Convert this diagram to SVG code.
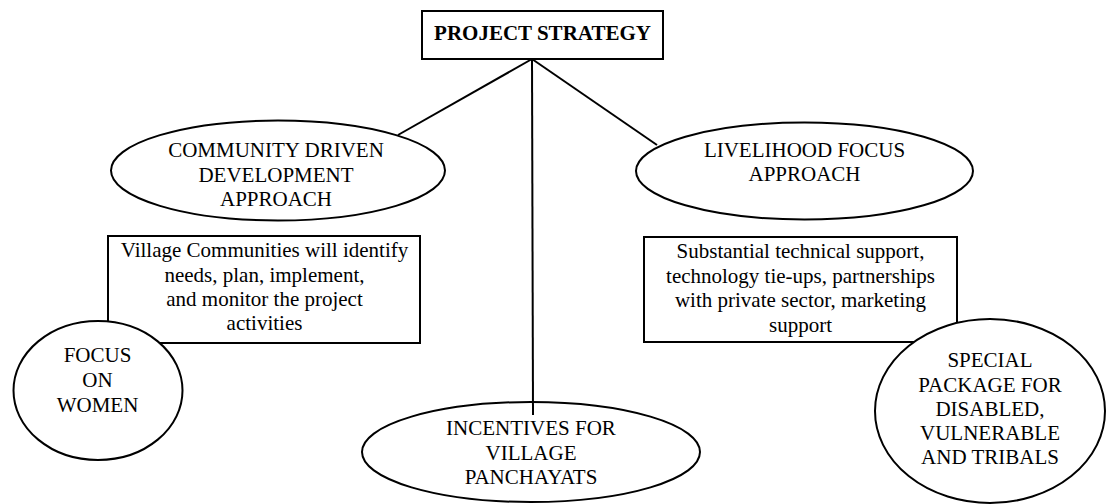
<svg xmlns="http://www.w3.org/2000/svg" width="1107" height="504" viewBox="0 0 1107 504">
  <style>
    .shape { fill: #fff; stroke: #000; stroke-width: 2; }
    .t { font-family: 'Liberation Serif', 'Times New Roman', serif; font-size: 21px; fill: #000; text-anchor: middle; }
    .b { font-weight: bold; }
    #connectors line { stroke: #000; stroke-width: 2; }
  </style>
  <rect width="1107" height="504" fill="#fff"/>

  <!-- root -->
  <g id="project-strategy">
    <rect class="shape" x="422" y="11" width="241" height="48"/>
    <text class="t b" x="542.5" y="40">PROJECT STRATEGY</text>
  </g>

  <!-- detail boxes (drawn under the ellipses that overlap them) -->
  <g id="community-detail">
    <rect class="shape" x="108" y="236" width="312" height="107"/>
    <text class="t" x="264.5" y="257">Village Communities will identify</text>
    <text class="t" x="264.5" y="282">needs, plan, implement,</text>
    <text class="t" x="264.5" y="306">and monitor the project</text>
    <text class="t" x="264.5" y="330">activities</text>
  </g>

  <g id="livelihood-detail">
    <rect class="shape" x="644" y="237" width="313" height="105"/>
    <text class="t" x="800.5" y="258">Substantial technical support,</text>
    <text class="t" x="800.5" y="283">technology tie-ups, partnerships</text>
    <text class="t" x="800.5" y="307">with private sector, marketing</text>
    <text class="t" x="800.5" y="332">support</text>
  </g>

  <g id="community-driven">
    <ellipse class="shape" cx="278" cy="170.5" rx="167" ry="50"/>
    <text class="t" x="276" y="157">COMMUNITY DRIVEN</text>
    <text class="t" x="276" y="182">DEVELOPMENT</text>
    <text class="t" x="276" y="206">APPROACH</text>
  </g>

  <g id="livelihood-focus">
    <ellipse class="shape" cx="804.5" cy="171" rx="168.5" ry="48.5"/>
    <text class="t" x="804.5" y="157">LIVELIHOOD FOCUS</text>
    <text class="t" x="804.5" y="181">APPROACH</text>
  </g>

  <g id="focus-on-women">
    <ellipse class="shape" cx="98" cy="390.5" rx="84.5" ry="69.5"/>
    <text class="t" x="97.5" y="362">FOCUS</text>
    <text class="t" x="97.5" y="387">ON</text>
    <text class="t" x="97.5" y="411.5">WOMEN</text>
  </g>

  <g id="incentives">
    <ellipse class="shape" cx="531" cy="452" rx="169" ry="50"/>
    <text class="t" x="531" y="435">INCENTIVES FOR</text>
    <text class="t" x="531" y="460">VILLAGE</text>
    <text class="t" x="531" y="484">PANCHAYATS</text>
  </g>

  <g id="special-package">
    <ellipse class="shape" cx="990" cy="411" rx="115" ry="92"/>
    <text class="t" x="990" y="367">SPECIAL</text>
    <text class="t" x="990" y="392">PACKAGE FOR</text>
    <text class="t" x="990" y="416">DISABLED,</text>
    <text class="t" x="990" y="440">VULNERABLE</text>
    <text class="t" x="990" y="464">AND TRIBALS</text>
  </g>

  <g id="connectors">
    <line x1="532" y1="59" x2="398" y2="135"/>
    <line x1="532" y1="59" x2="533" y2="415"/>
    <line x1="532" y1="59" x2="657" y2="145"/>
  </g>
</svg>
